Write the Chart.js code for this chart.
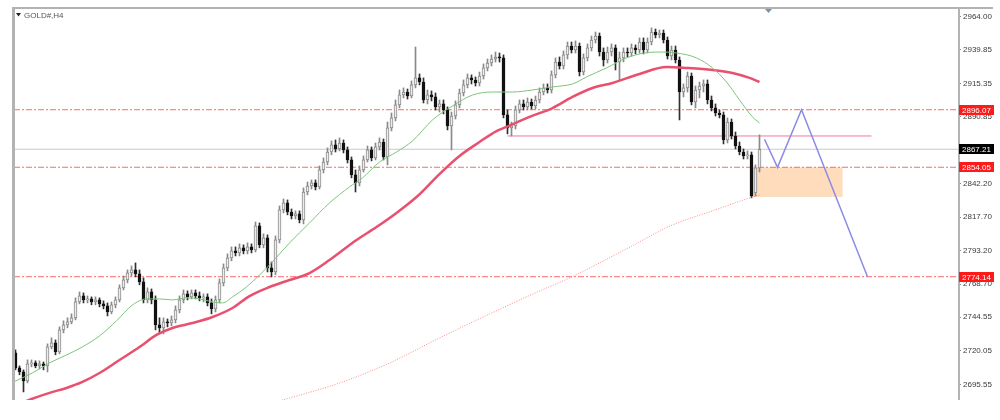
<!DOCTYPE html>
<html>
<head>
<meta charset="utf-8">
<title>GOLD#,H4</title>
<script src="https://cdn.jsdelivr.net/npm/chart.js@4.4.1/dist/chart.umd.min.js"></script>
<style>
  body { margin: 0; background: #fff; }
  canvas { display: block; }
</style>
</head>
<body>
<canvas id="gold" width="1000" height="420"></canvas>
<script>

// bougies H4, de gauche a droite
const opens = [
  2718.5, 2707.6, 2704.6, 2698.1, 2710.5, 2711.2, 2709.0, 2710.5, 2709.0, 2722.9, // 0
  2725.8, 2719.2, 2735.3, 2739.0, 2741.1, 2744.1, 2755.7, 2760.1, 2757.2, 2757.9, // 10
  2755.7, 2757.2, 2754.3, 2752.8, 2748.4, 2753.6, 2757.2, 2766.0, 2771.8, 2776.9, // 20
  2779.1, 2776.2, 2770.3, 2757.2, 2763.0, 2757.2, 2739.0, 2736.8, 2741.1, 2740.4, // 30
  2742.6, 2749.9, 2757.2, 2761.6, 2759.4, 2762.3, 2760.1, 2758.7, 2759.4, 2755.0, // 40
  2750.6, 2757.2, 2769.6, 2780.6, 2787.9, 2793.0, 2791.5, 2795.2, 2793.0, 2795.9, // 50
  2793.7, 2811.2, 2797.4, 2802.5, 2780.6, 2777.6, 2801.0, 2822.9, 2828.0, 2821.4, // 60
  2818.5, 2820.0, 2815.6, 2836.0, 2840.4, 2842.6, 2839.7, 2852.1, 2857.9, 2865.2, // 70
  2870.4, 2867.4, 2871.8, 2866.7, 2859.4, 2848.5, 2842.6, 2852.1, 2859.4, 2866.7, // 80
  2860.9, 2868.9, 2872.5, 2861.6, 2882.8, 2890.1, 2899.6, 2906.9, 2909.0, 2906.1, // 90
  2914.2, 2919.3, 2916.3, 2903.2, 2906.9, 2905.4, 2898.1, 2900.3, 2895.9, 2884.2, // 100
  2891.5, 2899.6, 2908.3, 2914.2, 2919.3, 2917.8, 2915.6, 2920.7, 2926.6, 2930.2, // 110
  2933.1, 2934.6, 2933.9, 2892.3, 2882.8, 2884.2, 2895.9, 2900.3, 2898.1, 2901.7, // 120
  2898.8, 2903.2, 2909.0, 2912.0, 2910.5, 2921.5, 2930.9, 2928.0, 2936.1, 2942.6, // 130
  2939.7, 2942.6, 2923.6, 2933.9, 2941.2, 2947.0, 2949.9, 2938.2, 2932.4, 2938.2, // 140
  2941.2, 2930.9, 2933.9, 2938.2, 2937.5, 2941.2, 2939.7, 2945.5, 2939.7, 2945.5, // 150
  2952.8, 2950.7, 2952.1, 2947.0, 2935.3, 2939.7, 2932.4, 2909.0, 2912.0, 2920.7, // 160
  2901.7, 2910.5, 2913.4, 2914.9, 2903.2, 2897.4, 2893.7, 2892.3, 2874.0, 2887.1, // 170
  2876.9, 2869.6, 2865.2, 2862.3, 2863.1, 2835.3, 2853.6                          // 180
];
const highs = [
  2720.7, 2709.0, 2706.1, 2713.4, 2713.4, 2712.7, 2712.7, 2711.9, 2725.1, 2729.5,
  2728.0, 2737.5, 2741.9, 2744.1, 2747.0, 2758.7, 2763.0, 2762.3, 2760.1, 2759.4,
  2759.4, 2758.7, 2756.5, 2755.0, 2755.7, 2759.4, 2768.2, 2774.7, 2779.1, 2782.0,
  2784.2, 2779.1, 2773.3, 2766.0, 2765.2, 2760.1, 2744.1, 2744.1, 2743.3, 2745.5,
  2752.8, 2760.1, 2764.5, 2763.8, 2764.5, 2764.5, 2763.0, 2761.6, 2761.6, 2757.9,
  2760.1, 2772.5, 2783.5, 2790.8, 2795.9, 2795.9, 2798.1, 2797.4, 2798.8, 2798.1,
  2814.1, 2813.4, 2805.4, 2804.7, 2784.9, 2803.9, 2825.8, 2830.9, 2830.2, 2823.6,
  2822.2, 2822.2, 2839.0, 2843.3, 2844.8, 2844.8, 2855.0, 2860.9, 2868.2, 2873.3,
  2874.0, 2875.5, 2874.0, 2868.9, 2861.6, 2852.1, 2855.0, 2862.3, 2869.6, 2868.9,
  2871.8, 2875.5, 2874.7, 2887.1, 2893.7, 2903.2, 2910.5, 2912.0, 2911.2, 2917.1,
  2941.9, 2922.2, 2919.3, 2910.5, 2909.8, 2908.3, 2903.2, 2903.2, 2898.1, 2894.4,
  2902.5, 2911.2, 2917.8, 2922.2, 2921.5, 2920.0, 2923.6, 2929.5, 2933.1, 2936.1,
  2938.2, 2937.5, 2936.1, 2895.9, 2887.1, 2898.8, 2903.2, 2903.2, 2904.7, 2903.9,
  2906.1, 2912.0, 2914.9, 2914.9, 2924.4, 2933.9, 2934.6, 2939.0, 2945.5, 2945.5,
  2946.3, 2944.8, 2936.8, 2944.1, 2949.9, 2952.8, 2952.1, 2941.2, 2941.9, 2944.1,
  2943.4, 2938.2, 2941.2, 2941.2, 2944.1, 2943.4, 2948.5, 2948.5, 2948.5, 2955.8,
  2955.0, 2954.3, 2954.3, 2949.2, 2942.6, 2942.6, 2934.6, 2914.9, 2923.6, 2922.9,
  2913.4, 2916.3, 2917.8, 2917.8, 2906.1, 2900.3, 2895.9, 2894.4, 2890.1, 2889.3,
  2879.8, 2872.5, 2867.4, 2866.0, 2865.2, 2855.8, 2877.7
];
const lows = [
  2706.1, 2702.5, 2690.0, 2696.6, 2708.3, 2707.6, 2706.8, 2706.1, 2704.6, 2721.4,
  2717.1, 2717.8, 2733.1, 2736.8, 2739.7, 2742.6, 2754.3, 2755.0, 2755.0, 2753.6,
  2753.6, 2752.1, 2750.6, 2745.5, 2747.0, 2751.4, 2755.7, 2764.5, 2769.6, 2774.7,
  2774.0, 2768.2, 2755.0, 2755.0, 2754.3, 2735.3, 2733.1, 2732.4, 2737.5, 2738.2,
  2740.4, 2747.7, 2755.0, 2757.2, 2757.9, 2757.9, 2756.5, 2755.7, 2752.8, 2747.0,
  2748.4, 2755.0, 2767.4, 2778.4, 2785.7, 2789.3, 2789.3, 2790.8, 2790.8, 2791.5,
  2792.2, 2795.2, 2795.2, 2777.6, 2774.0, 2775.5, 2798.8, 2820.7, 2819.3, 2816.3,
  2816.3, 2813.4, 2812.7, 2833.9, 2838.2, 2837.5, 2838.2, 2849.9, 2855.8, 2863.1,
  2865.2, 2866.0, 2864.5, 2857.2, 2846.3, 2836.0, 2840.4, 2850.6, 2857.9, 2858.7,
  2859.4, 2866.7, 2859.4, 2855.8, 2880.6, 2887.9, 2897.4, 2904.7, 2903.9, 2904.7,
  2912.0, 2914.2, 2901.0, 2900.3, 2902.5, 2895.9, 2894.4, 2893.0, 2881.3, 2866.7,
  2889.3, 2897.4, 2906.1, 2912.0, 2914.9, 2913.4, 2913.4, 2918.5, 2924.4, 2928.0,
  2930.9, 2930.9, 2890.1, 2878.4, 2876.9, 2882.0, 2893.7, 2895.9, 2895.9, 2896.6,
  2896.6, 2901.0, 2906.9, 2908.3, 2908.3, 2919.3, 2925.8, 2925.8, 2933.1, 2937.5,
  2937.5, 2920.7, 2921.5, 2931.7, 2939.0, 2944.8, 2935.3, 2928.0, 2930.2, 2935.3,
  2925.1, 2917.8, 2930.9, 2934.6, 2935.3, 2936.8, 2937.5, 2936.8, 2937.5, 2943.4,
  2948.5, 2948.5, 2944.8, 2933.1, 2932.4, 2930.2, 2888.6, 2905.4, 2909.0, 2899.6,
  2897.4, 2904.7, 2909.0, 2900.3, 2895.2, 2891.5, 2890.1, 2871.1, 2871.8, 2874.7,
  2867.4, 2863.1, 2860.1, 2860.1, 2831.7, 2833.1, 2850.6
];
const closes = [
  2707.6, 2704.6, 2698.1, 2710.5, 2711.2, 2709.0, 2710.5, 2709.0, 2722.9, 2725.8,
  2719.2, 2735.3, 2739.0, 2741.1, 2744.1, 2755.7, 2760.1, 2757.2, 2757.9, 2755.7,
  2757.2, 2754.3, 2752.8, 2748.4, 2753.6, 2757.2, 2766.0, 2771.8, 2776.9, 2779.1,
  2776.2, 2770.3, 2757.2, 2763.0, 2757.2, 2739.0, 2736.8, 2741.1, 2740.4, 2742.6,
  2749.9, 2757.2, 2761.6, 2759.4, 2762.3, 2760.1, 2758.7, 2759.4, 2755.0, 2750.6,
  2757.2, 2769.6, 2780.6, 2787.9, 2793.0, 2791.5, 2795.2, 2793.0, 2795.9, 2793.7,
  2811.2, 2797.4, 2802.5, 2780.6, 2777.6, 2801.0, 2822.9, 2828.0, 2821.4, 2818.5,
  2820.0, 2815.6, 2836.0, 2840.4, 2842.6, 2839.7, 2852.1, 2857.9, 2865.2, 2870.4,
  2867.4, 2871.8, 2866.7, 2859.4, 2848.5, 2842.6, 2852.1, 2859.4, 2866.7, 2860.9,
  2868.9, 2872.5, 2861.6, 2882.8, 2890.1, 2899.6, 2906.9, 2909.0, 2906.1, 2914.2,
  2919.3, 2916.3, 2903.2, 2906.9, 2905.4, 2898.1, 2900.3, 2895.9, 2884.2, 2891.5,
  2899.6, 2908.3, 2914.2, 2919.3, 2917.8, 2915.6, 2920.7, 2926.6, 2930.2, 2933.1,
  2934.6, 2933.9, 2892.3, 2882.8, 2884.2, 2895.9, 2900.3, 2898.1, 2901.7, 2898.8,
  2903.2, 2909.0, 2912.0, 2910.5, 2921.5, 2930.9, 2928.0, 2936.1, 2942.6, 2939.7,
  2942.6, 2923.6, 2933.9, 2941.2, 2947.0, 2949.9, 2938.2, 2932.4, 2938.2, 2941.2,
  2930.9, 2933.9, 2938.2, 2937.5, 2941.2, 2939.7, 2945.5, 2939.7, 2945.5, 2952.8,
  2950.7, 2952.1, 2947.0, 2935.3, 2939.7, 2932.4, 2909.0, 2912.0, 2920.7, 2901.7,
  2910.5, 2913.4, 2914.9, 2903.2, 2897.4, 2893.7, 2892.3, 2874.0, 2887.1, 2876.9,
  2869.6, 2865.2, 2862.3, 2863.1, 2833.1, 2853.6, 2867.2
];

// moyennes mobiles : [indice de bougie, prix]
const maFast = [
  [-0.5, 2697.3], [4.25, 2703.9], [8.5, 2711.2], [12.75, 2717.0], [16.75, 2722.9], [21, 2730.9],
  [25.25, 2741.9], [29.25, 2753.5], [32.75, 2757.9], [36, 2757.9], [39.25, 2757.2], [42.75, 2758.7],
  [46, 2757.9], [49.25, 2755.7], [51.75, 2755.0], [54.25, 2759.4], [57.75, 2766.7], [63.5, 2782.7],
  [68.5, 2798.8], [73.5, 2813.4], [78.5, 2828.0], [83.5, 2839.7], [86.75, 2846.3], [91, 2857.9],
  [95.25, 2865.2], [99.25, 2873.3], [104.25, 2888.6], [109.25, 2898.8], [114.25, 2906.8], [119.25, 2909.0],
  [124.25, 2909.0], [129.25, 2910.5], [134.25, 2912.7], [139.25, 2914.9], [142.75, 2920.0], [147.75, 2926.6],
  [152.75, 2933.9], [157.25, 2937.5], [161, 2938.2], [165.25, 2937.5], [170.25, 2933.9], [174.25, 2926.6],
  [177.75, 2916.3], [181, 2903.2], [184.25, 2890.8], [186, 2886.4]
];
const maSlow = [
  [1.5, 2682.0], [4, 2684.8], [8.5, 2689.3], [12.75, 2692.9], [16.75, 2697.3], [21, 2703.8], [26, 2713.3],
  [31, 2722.8], [35.25, 2731.6], [39.25, 2736.7], [44.25, 2740.3], [49.25, 2744.7], [54.25, 2751.3],
  [58.5, 2760.0], [63.5, 2766.6], [68.5, 2771.7], [73.5, 2776.8], [78.5, 2786.3], [85.25, 2800.9],
  [90.25, 2810.4], [95.25, 2820.7], [100.25, 2832.3], [106, 2849.1], [111, 2862.3], [116, 2872.5],
  [120.25, 2880.5], [122.75, 2883.5], [128.5, 2890.8], [134.25, 2897.3], [139.25, 2905.4], [144.25, 2911.9],
  [149.25, 2915.6], [156, 2922.2], [162.75, 2927.3], [167.75, 2926.6], [174.25, 2925.1], [179.25, 2922.9],
  [183.5, 2919.3], [186, 2916.3]
];
const maLong = [
  [66, 2683.4], [81, 2696.5], [93.5, 2711.1], [106, 2729.4], [118.5, 2746.9], [131, 2763.7],
  [138.5, 2773.2], [151.75, 2792.9], [164.25, 2811.9], [174.25, 2822.2], [182.75, 2830.9], [186, 2833.8]
];

// niveaux et dessins
const levels = [2896.07, 2854.05, 2774.14];
const bidPrice = 2867.21;
const resistance = [[123, 2876.9], [214, 2876.9]];
const forecast = [[187.25, 2874.5], [190.5, 2854.05], [196.5, 2896.07], [213, 2774.14]];
const zoneX = [184.25, 206.75];
const zoneY = [2832.4, 2854.05];

// axe des prix
const tickValues = [2964.00, 2939.85, 2915.35, 2890.85, 2842.20, 2817.70, 2793.20, 2768.70, 2744.55, 2720.05, 2695.55];
const tagPrices = [2896.07, 2867.21, 2854.05, 2774.14];
const tagColors = ['#ff1a1a', '#000000', '#ff1a1a', '#ff1a1a'];

//--------------------------------------------------------------------------

const xMin = -0.375, xMax = 235.625;
const font = '"Liberation Sans", Arial, sans-serif';
const idx = closes.map((c, i) => i);
const up = idx.map(i => closes[i] >= opens[i]);
const pts = arr => arr.map(([x, y]) => ({x: x, y: y}));
const flat = p => [{x: xMin, y: p}, {x: xMax, y: p}];

const line = (data, color, width, extra) => Object.assign({
    type: 'line', data: data, borderColor: color, borderWidth: width,
    pointRadius: 0, fill: false, order: 1
}, extra || {});

// zone orange derriere les bougies
const zonePlugin = {
    id: 'zone',
    beforeDatasetsDraw(chart) {
        const {ctx, scales: {x, y}} = chart;
        const l = x.getPixelForValue(zoneX[0]), r = x.getPixelForValue(zoneX[1]);
        const t = y.getPixelForValue(zoneY[1]), b = y.getPixelForValue(zoneY[0]);
        ctx.save();
        ctx.fillStyle = 'rgba(253, 208, 165, 0.75)';
        ctx.fillRect(l, t, r - l, b - t);
        ctx.restore();
    }
};

// cadre, titre, etiquettes de prix
const decor = {
    id: 'decor',
    afterDraw(chart) {
        const {ctx, chartArea: a, scales: {x, y}} = chart;
        ctx.save();
        ctx.fillStyle = '#b3b3b3';
        ctx.fillRect(a.left - 2, a.top - 1, 3, a.bottom - a.top + 1);
        ctx.fillRect(a.left - 2, a.top - 1, 995 - a.left, 2);
        ctx.fillRect(a.right, a.top, 2, a.bottom - a.top);

        // repere de decalage
        const sx = x.getPixelForValue(188.25);
        ctx.fillStyle = '#7d93ab';
        ctx.beginPath();
        ctx.moveTo(sx - 3.5, a.top + 1); ctx.lineTo(sx + 3.5, a.top + 1); ctx.lineTo(sx, a.top + 5);
        ctx.fill();

        ctx.fillStyle = '#222';
        ctx.beginPath();
        ctx.moveTo(16, 13); ctx.lineTo(21, 13); ctx.lineTo(18.5, 16.5);
        ctx.fill();
        ctx.font = '8px ' + font;
        ctx.textBaseline = 'middle';
        ctx.fillStyle = '#555';
        ctx.fillText('GOLD#,H4', 24, 15.5);

        tagPrices.forEach((p, k) => {
            const py = Math.round(y.getPixelForValue(p));
            ctx.fillStyle = tagColors[k];
            ctx.fillRect(a.right + 1, py - 5, 35, 10);
            ctx.fillStyle = '#fff';
            ctx.fillText(p.toFixed(2), a.right + 4, py + 0.5);
        });
        ctx.restore();
    }
};

new Chart(document.getElementById('gold'), {
    type: 'bar',
    data: {
        datasets: [
            // niveaux horizontaux
            line(flat(levels[0]), 'rgba(255, 70, 70, 0.8)', 1, {borderDash: [6, 2, 2, 2], order: 6}),
            line(flat(levels[1]), 'rgba(255, 70, 70, 0.8)', 1, {borderDash: [6, 2, 2, 2], order: 6}),
            line(flat(levels[2]), 'rgba(255, 70, 70, 0.8)', 1, {borderDash: [6, 2, 2, 2], order: 6}),
            line(flat(bidPrice), '#c3cad4', 1, {order: 6}),
            line(pts(resistance), '#f07a94', 1, {order: 6}),
            // bougies
            {
                type: 'bar',
                data: idx.map(i => ({x: i, y: [lows[i], highs[i]]})),
                backgroundColor: idx.map(i => up[i] ? '#8a8a8a' : '#303030'),
                borderWidth: 0,
                barThickness: 1,
                grouped: false,
                order: 4
            },
            {
                type: 'bar',
                data: idx.map(i => ({x: i, y: [opens[i], closes[i]]})),
                backgroundColor: idx.map(i => up[i] ? '#ececec' : '#111111'),
                borderColor: idx.map(i => up[i] ? '#8a8a8a' : '#111111'),
                borderWidth: 1,
                borderSkipped: false,
                barThickness: 3,
                minBarLength: 1,
                grouped: false,
                order: 3
            },
            // moyennes mobiles
            line(pts(maLong), 'rgba(255, 100, 100, 0.75)', 1, {borderDash: [1, 1.5], cubicInterpolationMode: 'monotone'}),
            line(pts(maFast), '#7cc47c', 1, {cubicInterpolationMode: 'monotone'}),
            line(pts(maSlow), '#e8506e', 2.5, {cubicInterpolationMode: 'monotone'}),
            // scenario
            line(pts(forecast), '#8b8be6', 1.5, {order: 0})
        ]
    },
    options: {
        responsive: false,
        animation: false,
        devicePixelRatio: 1,
        layout: {padding: {left: 14, top: 8, right: 0, bottom: 20}},
        plugins: {legend: {display: false}, tooltip: {enabled: false}},
        scales: {
            x: {type: 'linear', min: xMin, max: xMax, display: false, offset: false},
            y: {
                type: 'linear',
                position: 'right',
                min: 2684.1,
                max: 2970.35,
                afterBuildTicks: s => { s.ticks = tickValues.map(v => ({value: v})); },
                afterFit: s => { s.width = 42; },
                grid: {drawOnChartArea: false, drawTicks: true, tickLength: 3, color: '#8a8a8a'},
                border: {display: false},
                ticks: {
                    padding: 2,
                    color: '#3a3a3a',
                    autoSkip: false,
                    font: {size: 8, family: font},
                    callback: v => Number(v).toFixed(2)
                }
            }
        }
    },
    plugins: [zonePlugin, decor]
});
</script>
</body>
</html>
